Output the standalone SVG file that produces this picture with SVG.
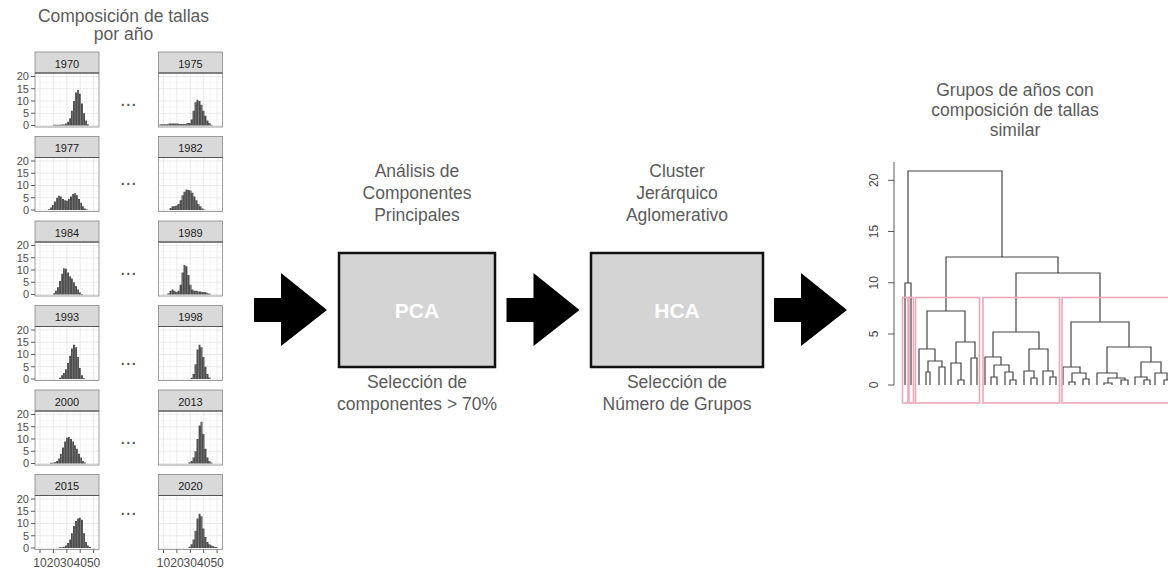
<svg xmlns="http://www.w3.org/2000/svg" width="1168" height="573" viewBox="0 0 1168 573">
<style>
text{font-family:"Liberation Sans",Arial,Helvetica,sans-serif}
.t{font-size:17.5px;fill:#5b5b5b;text-anchor:middle}
.yl{font-size:11px;fill:#4d4d4d;text-anchor:end}
.xl{font-size:12px;fill:#4d4d4d;text-anchor:middle}
.st{font-size:11px;fill:#1a1a1a;text-anchor:middle}
.dots{font-size:20px;fill:#555;text-anchor:middle}
.bl{font-size:21px;font-weight:bold;fill:#ffffff;text-anchor:middle}
.dl{font-size:12px;fill:#444;text-anchor:middle}
.bar{fill:url(#stripes)}
.tick{stroke:#333;stroke-width:0.8;fill:none}
.box{fill:#d4d4d4;stroke:#111;stroke-width:2.5}
.arrow{fill:#000}
.dend{fill:none;stroke:#444;stroke-width:1.2}
.clu{fill:none;stroke:#eea7b6;stroke-width:1.6}
</style>
<defs>
<pattern id="stripes" patternUnits="userSpaceOnUse" width="2.7" height="40">
<rect width="2.7" height="40" fill="#4d4d4d"/>
<rect x="2.1" width="0.6" height="40" fill="#8c8c8c"/>
</pattern>
<g id="panel">
<rect x="0" y="21" width="64" height="54" fill="#fff"/>
<path d="M0 67.4H64M0 55.1H64M0 42.9H64M0 30.6H64M11.7 21V75M25.1 21V75M38.5 21V75M51.9 21V75" stroke="#f1f1f1" stroke-width="0.5"/>
<path d="M0 73.5H64M0 61.25H64M0 49H64M0 36.75H64M0 24.5H64M5 21V75M18.4 21V75M31.8 21V75M45.2 21V75M58.6 21V75" stroke="#e2e2e2" stroke-width="0.7"/>
<rect x="0" y="0" width="64" height="21" fill="#d9d9d9" stroke="#858585" stroke-width="0.8"/>
<rect x="0" y="21" width="64" height="54" fill="none" stroke="#858585" stroke-width="0.8"/>
<path d="M0 21H64" stroke="#555" stroke-width="1"/>
</g>
<polygon id="bigarrow" points="0,-12 27,-12 27,-37 73,0 27,36 27,12 0,12"/>
</defs>
<rect width="1168" height="573" fill="#fff"/>

<g id="size-composition">
<text class="t" x="123.5" y="21.5">Composición de tallas</text>
<text class="t" x="123.5" y="39.5">por año</text>
<g id="panels">
<use href="#panel" x="35" y="52"/><use href="#panel" x="158.5" y="52"/>
<use href="#panel" x="35" y="136.5"/><use href="#panel" x="158.5" y="136.5"/>
<use href="#panel" x="35" y="221"/><use href="#panel" x="158.5" y="221"/>
<use href="#panel" x="35" y="305.5"/><use href="#panel" x="158.5" y="305.5"/>
<use href="#panel" x="35" y="390"/><use href="#panel" x="158.5" y="390"/>
<use href="#panel" x="35" y="474.5"/><use href="#panel" x="158.5" y="474.5"/>
</g>
<g id="strip-labels">
<text class="st" x="67" y="67.5">1970</text><text class="st" x="190.5" y="67.5">1975</text>
<text class="st" x="67" y="152">1977</text><text class="st" x="190.5" y="152">1982</text>
<text class="st" x="67" y="236.5">1984</text><text class="st" x="190.5" y="236.5">1989</text>
<text class="st" x="67" y="321">1993</text><text class="st" x="190.5" y="321">1998</text>
<text class="st" x="67" y="405.5">2000</text><text class="st" x="190.5" y="405.5">2013</text>
<text class="st" x="67" y="490">2015</text><text class="st" x="190.5" y="490">2020</text>
</g>
<g id="histograms">
<path class="bar" transform="translate(35,125.5) scale(1,-2.45)" d="M18 0V0.3H26V0.4H30V0.8H32V1.5H34V3H36V6H38V10H40V13.5H42V14.5H44V13H46V9H48V5H50V2H52V0.5H54V0Z"/>
<path class="bar" transform="translate(158.5,125.5) scale(1,-2.45)" d="M1 0V0.5H10V0.8H20V0.6H28V1H32V2.5H34V6H36V9.5H38V10.5H40V10H42V8.5H44V6H46V4H48V2H50V1H52V0.3H54V0Z"/>
<path class="bar" transform="translate(35,210) scale(1,-2.45)" d="M13 0V0.3H15V1H17V2H19V3.5H21V5H23V5.8H25V5.5H27V4.5H29V4H31V3.8H33V4.5H35V5.5H37V6.5H39V6.8H41V6H43V4.5H45V3H47V1.5H49V0.6H51V0.2H53V0Z"/>
<path class="bar" transform="translate(158.5,210) scale(1,-2.45)" d="M11 0V0.8H13V1.5H17V1.8H19V2.5H21V4H23V6H25V7.5H27V8.4H29V8.2H31V8H33V7H35V5.5H37V4H39V2.5H41V1.5H43V0.6H45V0.2H47V0Z"/>
<path class="bar" transform="translate(35,294.5) scale(1,-2.45)" d="M18 0V0.5H20V1.5H22V3H24V5.5H26V8.5H28V10.7H30V10.5H32V9H34V7.5H36V6.5H38V5H40V3.5H42V2H44V0.8H46V0.2H48V0Z"/>
<path class="bar" transform="translate(158.5,294.5) scale(1,-2.45)" d="M9 0V0.5H11V1.5H13V2H15V1.5H17V1H19V1.5H21V4H23V9H25V12H27V11.5H29V8H31V4H33V2H35V1.5H39V1.2H43V1H47V0.8H49V0.4H52V0Z"/>
<path class="bar" transform="translate(35,379) scale(1,-2.45)" d="M24 0V0.5H26V1.5H28V2.5H30V4H32V6.5H34V9.5H36V12.5H38V14H40V13H42V9H44V4.5H46V1.5H48V0.3H50V0Z"/>
<path class="bar" transform="translate(158.5,379) scale(1,-2.45)" d="M32 0V0.5H34V2H36V6H38V12H40V14H42V13H44V9H46V5H48V2H50V0.6H52V0Z"/>
<path class="bar" transform="translate(35,463.5) scale(1,-2.45)" d="M15 0V0.3H19V0.5H21V1H23V2H25V4H27V6.5H29V9H31V10.5H33V10.8H35V10H37V9H39V7.5H41V6H43V4H45V2.5H47V1H49V0.4H51V0Z"/>
<path class="bar" transform="translate(158.5,463.5) scale(1,-2.45)" d="M30 0V0.5H32V1H34V2.5H36V5H38V10H40V15.5H42V17H44V12H46V6H48V2.5H50V1H52V0.4H54V0Z"/>
<path class="bar" transform="translate(35,548) scale(1,-2.45)" d="M24 0V0.3H28V0.5H30V1H32V2H34V3.5H36V6H38V9H40V11H42V12H44V12.3H46V11.5H48V6H50V2.5H52V1H54V0.4H56V0Z"/>
<path class="bar" transform="translate(158.5,548) scale(1,-2.45)" d="M30 0V0.5H32V1.5H34V3.5H36V7H38V12H40V14H42V13H44V8H46V4.5H48V2.5H50V1.5H52V1H54V0.7H56V0.4H59V0Z"/>
</g>
<g id="y-axes">
<path class="tick" d="M31 76.5H35M31 88.75H35M31 101H35M31 113.25H35M31 125.5H35M31 161H35M31 173.25H35M31 185.5H35M31 197.75H35M31 210H35M31 245.5H35M31 257.75H35M31 270H35M31 282.25H35M31 294.5H35M31 330H35M31 342.25H35M31 354.5H35M31 366.75H35M31 379H35M31 414.5H35M31 426.75H35M31 439H35M31 451.25H35M31 463.5H35M31 499H35M31 511.25H35M31 523.5H35M31 535.75H35M31 548H35"/>
<text class="yl" x="29" y="80.4">20</text><text class="yl" x="29" y="92.65">15</text><text class="yl" x="29" y="104.9">10</text><text class="yl" x="29" y="117.15">5</text><text class="yl" x="29" y="129.4">0</text>
<text class="yl" x="29" y="164.9">20</text><text class="yl" x="29" y="177.15">15</text><text class="yl" x="29" y="189.4">10</text><text class="yl" x="29" y="201.65">5</text><text class="yl" x="29" y="213.9">0</text>
<text class="yl" x="29" y="249.4">20</text><text class="yl" x="29" y="261.65">15</text><text class="yl" x="29" y="273.9">10</text><text class="yl" x="29" y="286.15">5</text><text class="yl" x="29" y="298.4">0</text>
<text class="yl" x="29" y="333.9">20</text><text class="yl" x="29" y="346.15">15</text><text class="yl" x="29" y="358.4">10</text><text class="yl" x="29" y="370.65">5</text><text class="yl" x="29" y="382.9">0</text>
<text class="yl" x="29" y="418.4">20</text><text class="yl" x="29" y="430.65">15</text><text class="yl" x="29" y="442.9">10</text><text class="yl" x="29" y="455.15">5</text><text class="yl" x="29" y="467.4">0</text>
<text class="yl" x="29" y="502.9">20</text><text class="yl" x="29" y="515.15">15</text><text class="yl" x="29" y="527.4">10</text><text class="yl" x="29" y="539.65">5</text><text class="yl" x="29" y="551.9">0</text>
</g>
<g id="x-axes">
<path class="tick" d="M40 549.5V553M53.4 549.5V553M66.8 549.5V553M80.2 549.5V553M93.6 549.5V553M163.5 549.5V553M176.9 549.5V553M190.3 549.5V553M203.7 549.5V553M217.1 549.5V553"/>
<text class="xl" x="40" y="567">10</text><text class="xl" x="53.4" y="567">20</text><text class="xl" x="66.8" y="567">30</text><text class="xl" x="80.2" y="567">40</text><text class="xl" x="93.6" y="567">50</text>
<text class="xl" x="163.5" y="567">10</text><text class="xl" x="176.9" y="567">20</text><text class="xl" x="190.3" y="567">30</text><text class="xl" x="203.7" y="567">40</text><text class="xl" x="217.1" y="567">50</text>
</g>
<g id="ellipses">
<text class="dots" x="128.3" y="106.2">...</text>
<text class="dots" x="128.3" y="184.5">...</text>
<text class="dots" x="128.3" y="275.2">...</text>
<text class="dots" x="128.3" y="364.5">...</text>
<text class="dots" x="128.3" y="443.5">...</text>
<text class="dots" x="128.3" y="514.5">...</text>
</g>
</g>

<g id="pca">
<text class="t" x="417" y="177.3">Análisis de</text>
<text class="t" x="417" y="199">Componentes</text>
<text class="t" x="417" y="220.5">Principales</text>
<rect class="box" x="339" y="253" width="156" height="114"/>
<text class="bl" x="417" y="317.5">PCA</text>
<text class="t" x="417" y="388">Selección de</text>
<text class="t" x="417" y="410">componentes &gt; 70%</text>
</g>

<g id="hca">
<text class="t" x="677" y="177.3">Cluster</text>
<text class="t" x="677" y="199">Jerárquico</text>
<text class="t" x="677" y="220.5">Aglomerativo</text>
<rect class="box" x="591" y="253" width="172" height="114"/>
<text class="bl" x="677" y="317.5">HCA</text>
<text class="t" x="677" y="388">Selección de</text>
<text class="t" x="677" y="410">Número de Grupos</text>
</g>

<g id="dendrogram">
<text class="t" x="1015" y="96">Grupos de años con</text>
<text class="t" x="1015" y="116">composición de tallas</text>
<text class="t" x="1015" y="136">similar</text>
<path class="tick" d="M894 162V385M888 180.3H894M888 231.5H894M888 282.8H894M888 334H894M888 385H894" stroke="#444"/>
<text class="dl" transform="translate(877.5,180.3) rotate(-90)">20</text>
<text class="dl" transform="translate(877.5,231.5) rotate(-90)">15</text>
<text class="dl" transform="translate(877.5,282.8) rotate(-90)">10</text>
<text class="dl" transform="translate(877.5,334) rotate(-90)">5</text>
<text class="dl" transform="translate(877.5,385) rotate(-90)">0</text>
<path class="dend" d="M908 283V171H1002V257
M905 385V283H911V385
M946 311V257H1058V273
M927 349V311H965V342
M919 385V349H935V361
M928 372V361H942V367
M926 385V372H930V385
M939 385V367H945V385
M956 363V342H975V358
M951 385V363H961V380
M958 385V380H964V385
M971 385V358H977V385
M1016 332V273H1100V322
M993 357V332H1039V349
M985 385V357H1001V365
M994 377V365H1009V372
M991 385V377H997V385
M1005 385V372H1013V380
M1010 385V380H1016V385
M1029 371V349H1048V371
M1024 385V371H1034V378
M1031 385V378H1037V385
M1043 385V371H1053V377
M1050 385V377H1056V385
M1071 367V322H1129V347
M1063 385V367H1080V373
M1072 382V373H1086V379
M1069 385V382H1075V385
M1083 385V379H1089V385
M1107 373V347H1151V362
M1097 385V373H1117V378
M1108 383V378H1125V380
M1104 385V383H1112V385
M1121 385V380H1128V385
M1141 377V362H1161V373
M1135 385V377H1147V380
M1144 385V380H1150V385
M1155 385V373H1167V380
M1164 385V380H1170V385"/>
<g id="clusters">
<rect class="clu" x="902.5" y="297.5" width="5.5" height="105.5"/>
<rect class="clu" x="909" y="297.5" width="4.5" height="105.5"/>
<rect class="clu" x="915.5" y="297.5" width="64" height="105.5"/>
<rect class="clu" x="983" y="297.5" width="76.5" height="105.5"/>
<rect class="clu" x="1062" y="297.5" width="110" height="105.5"/>
</g>
</g>

<g id="connectors">
<use class="arrow" href="#bigarrow" x="254" y="310"/>
<use class="arrow" href="#bigarrow" x="506.5" y="310"/>
<use class="arrow" href="#bigarrow" x="774" y="310"/>
</g>
</svg>
